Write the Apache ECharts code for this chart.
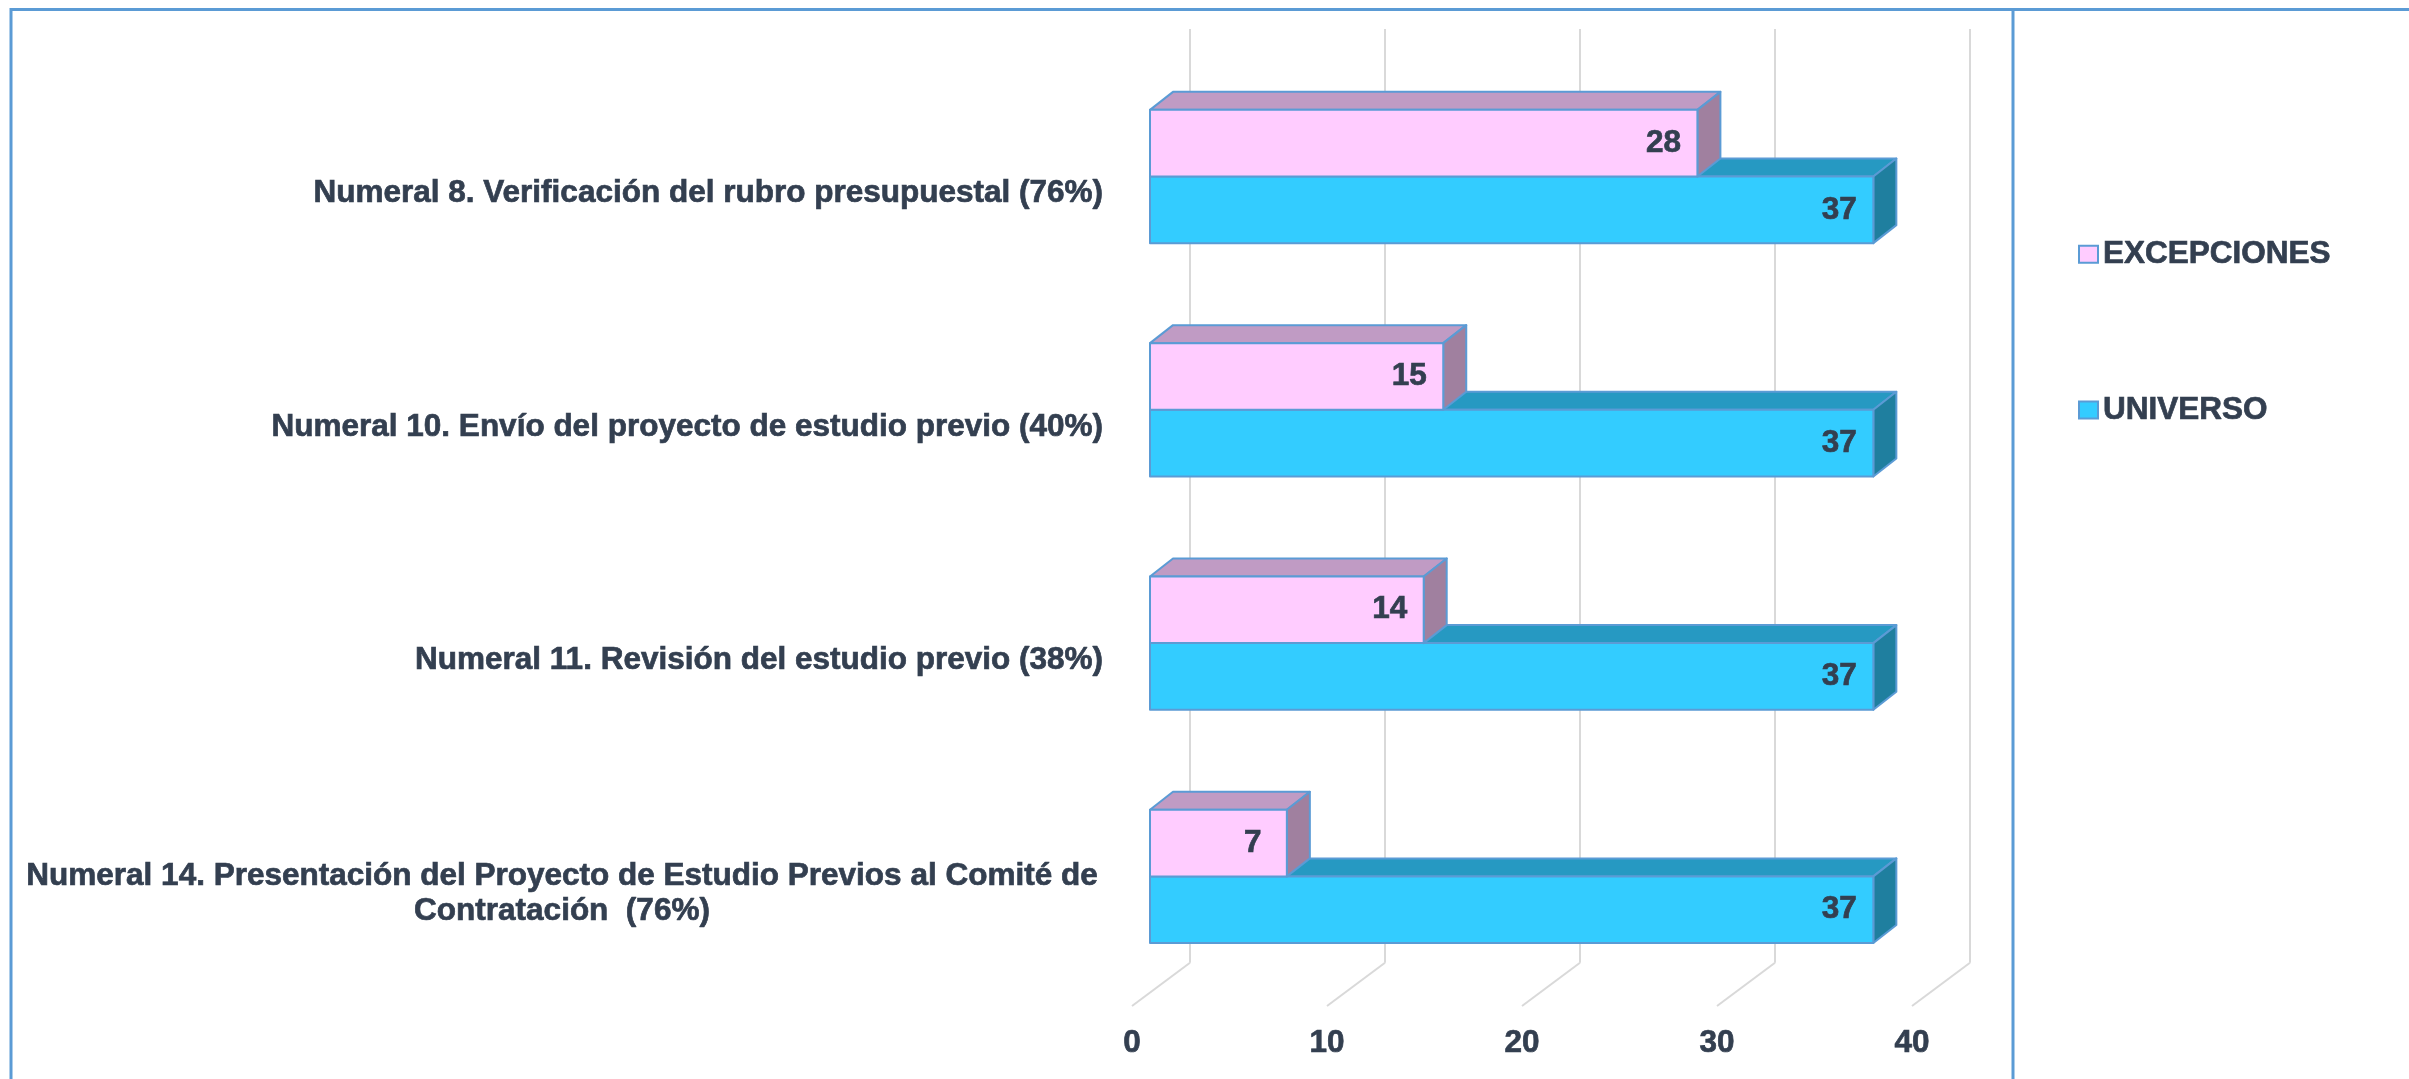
<!DOCTYPE html>
<html>
<head>
<meta charset="utf-8">
<script src="https://cdn.jsdelivr.net/npm/echarts@6/dist/echarts.min.js"></script>
<style>
    html, body { margin: 0; padding: 0; background: #fff; }
    #chart { width: 2409px; height: 1079px; }
</style>
</head>
<body>
<div id="chart"></div>
<script>
    // datos del grafico
    var categorias = [
        'Numeral 8. Verificación del rubro presupuestal (76%)',
        'Numeral 10. Envío del proyecto de estudio previo (40%)',
        'Numeral 11. Revisión del estudio previo (38%)',
        'Numeral 14. Presentación del Proyecto de Estudio Previos al Comité de\nContratación  (76%)'
    ]
    var excepciones = [28, 15, 14, 7]
    var universo = [37, 37, 37, 37]
    var ticksX = [0, 10, 20, 30, 40]

    var textColor = '#333f50'
    var edgeColor = '#5b9bd5'
    var fontFam = '"Liberation Sans", Arial, sans-serif'
    var FS = 31.5

    // profundidad del efecto 3D
    var DX = 23, DY = 18
    var BAR_RATIO = 0.2857

    function toPairs(arr) {
        return arr.map(function (v, i) { return [v, i] })
    }

    function renderBar(upper, colors) {
        return function (params, api) {
            var v = api.value(0), c = api.value(1)
            var p0 = api.coord([0, c])
            var p1 = api.coord([v, c])
            var band = api.size([0, 1])[1]
            var h = band * BAR_RATIO
            var x0 = p0[0], x1 = p1[0]
            var y0 = upper ? p0[1] - h : p0[1]
            var st = {stroke: edgeColor, lineWidth: 2, lineJoin: 'round'}
            return {
                type: 'group',
                children: [
                    {
                        type: 'polygon',
                        shape: {points: [[x0, y0], [x0 + DX, y0 - DY], [x1 + DX, y0 - DY], [x1, y0]]},
                        style: Object.assign({fill: colors.top}, st)
                    },
                    {
                        type: 'polygon',
                        shape: {points: [[x1, y0], [x1 + DX, y0 - DY], [x1 + DX, y0 + h - DY], [x1, y0 + h]]},
                        style: Object.assign({fill: colors.side}, st)
                    },
                    {
                        type: 'rect',
                        shape: {x: x0, y: y0, width: x1 - x0, height: h},
                        style: Object.assign({fill: colors.front}, st)
                    },
                    {
                        type: 'text',
                        x: x1 - 34,
                        y: y0 + h / 2,
                        style: {
                            text: String(v),
                            fill: textColor,
                            stroke: textColor,
                            lineWidth: 0.7,
                            font: 'bold ' + FS + 'px ' + fontFam,
                            align: 'center',
                            verticalAlign: 'middle'
                        }
                    }
                ]
            }
        }
    }

    var txt = {
        color: textColor, fontSize: FS, fontWeight: 'bold', fontFamily: fontFam,
        textBorderColor: textColor, textBorderWidth: 0.7
    }

    var chart = echarts.init(document.getElementById('chart'))

    chart.setOption({
        backgroundColor: '#fff',
        animation: false,
        grid: [
            // barras (cara frontal)
            {left: 1150, width: 782, top: 59.85, height: 933.2},
            // plano de fondo con lineas
            {left: 1190, width: 780, top: 29, height: 933.7},
            // etiquetas del eje x (piso)
            {left: 1132, width: 780, top: 29, height: 977},
            // etiquetas de categorias
            {left: 1118, width: 10, top: 77, height: 933.2}
        ],
        xAxis: [
            {gridIndex: 0, type: 'value', min: 0, max: 40, interval: 10, show: false},
            {
                gridIndex: 1, type: 'value', min: 0, max: 40, interval: 10,
                axisLine: {show: false}, axisTick: {show: false}, axisLabel: {show: false},
                splitLine: {show: true, lineStyle: {color: '#d9d9d9', width: 2}}
            },
            {
                gridIndex: 2, type: 'value', min: 0, max: 40, interval: 10,
                axisLine: {show: false}, axisTick: {show: false}, splitLine: {show: false},
                axisLabel: Object.assign({margin: 21, customValues: ticksX}, txt)
            },
            {gridIndex: 3, type: 'value', show: false}
        ],
        yAxis: [
            {gridIndex: 0, type: 'category', inverse: true, data: categorias, show: false},
            {gridIndex: 1, type: 'value', min: 0, max: 1, show: false},
            {gridIndex: 2, type: 'value', min: 0, max: 1, show: false},
            {
                gridIndex: 3, type: 'category', inverse: true, data: categorias,
                axisLine: {show: false}, axisTick: {show: false},
                axisLabel: Object.assign({
                    margin: 15, align: 'right', lineHeight: 35,
                    formatter: function (val) {
                        if (val.indexOf('\n') < 0) return val
                        return val.split('\n').map(function (l) { return '{c|' + l + '}' }).join('\n')
                    },
                    rich: {
                        c: Object.assign({width: 1082, align: 'center', lineHeight: 35}, txt)
                    }
                }, txt)
            }
        ],
        legend: {
            orient: 'vertical',
            left: 2073,
            top: 233,
            itemWidth: 19,
            itemHeight: 17,
            itemGap: 123,
            icon: 'rect',
            textStyle: txt,
            data: [
                {name: 'EXCEPCIONES', itemStyle: {color: '#ffccff', borderColor: edgeColor, borderWidth: 2}},
                {name: 'UNIVERSO', itemStyle: {color: '#33ccff', borderColor: edgeColor, borderWidth: 2}}
            ]
        },
        graphic: [
            {
                type: 'polyline',
                shape: {points: [[11, 1079], [11, 9.5], [2409, 9.5]]},
                style: {stroke: edgeColor, lineWidth: 3, fill: null}
            },
            {
                type: 'line',
                shape: {x1: 2013, y1: 9.5, x2: 2013, y2: 1079},
                style: {stroke: edgeColor, lineWidth: 3}
            }
        ],
        series: [
            {
                // lineas del piso
                type: 'custom',
                xAxisIndex: 1,
                yAxisIndex: 1,
                silent: true,
                data: ticksX.map(function (t) { return [t, 0] }),
                renderItem: function (params, api) {
                    var p = api.coord([api.value(0), 0])
                    return {
                        type: 'line',
                        shape: {x1: p[0], y1: p[1], x2: p[0] - 58, y2: p[1] + 43.3},
                        style: {stroke: '#d9d9d9', lineWidth: 2}
                    }
                }
            },
            {
                name: 'UNIVERSO',
                type: 'custom',
                xAxisIndex: 0,
                yAxisIndex: 0,
                itemStyle: {color: '#33ccff'},
                encode: {x: 0, y: 1},
                data: toPairs(universo),
                renderItem: renderBar(false, {front: '#33ccff', top: '#2699c2', side: '#1f7f9f'})
            },
            {
                name: 'EXCEPCIONES',
                type: 'custom',
                xAxisIndex: 0,
                yAxisIndex: 0,
                itemStyle: {color: '#ffccff'},
                encode: {x: 0, y: 1},
                data: toPairs(excepciones),
                renderItem: renderBar(true, {front: '#ffccff', top: '#c09bc4', side: '#a0809f'})
            }
        ]
    })
</script>
</body>
</html>
